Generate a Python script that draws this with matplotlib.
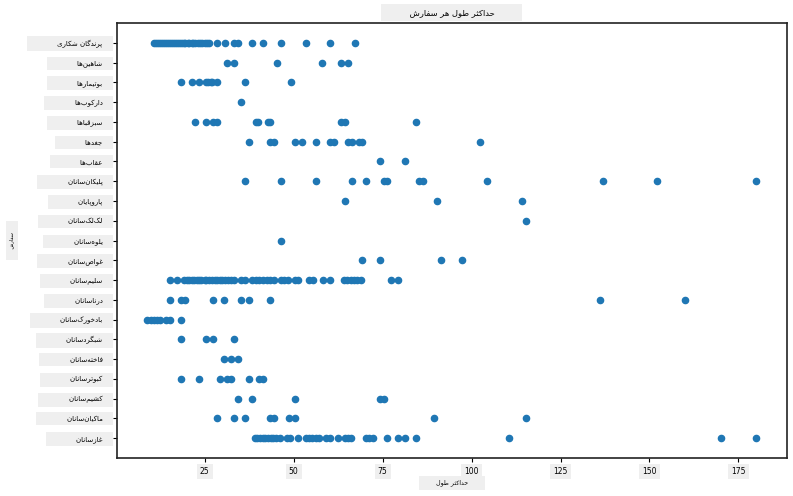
import matplotlib
matplotlib.use("Agg")
import matplotlib.pyplot as plt

# ---------------- data ----------------
# categories listed from bottom row to top row
categories = [
    "غازسانان", "ماکیان‌سانان", "کشیم‌سانان", "کبوترسانان", "فاخته‌سانان",
    "شبگردسانان", "بادخورک‌سانان", "درناسانان", "سلیم‌سانان", "غواص‌سانان",
    "یلوه‌سانان", "لک‌لک‌سانان", "پاروپایان", "پلیکان‌سانان", "عقاب‌ها",
    "جغدها", "سبزقباها", "دارکوب‌ها", "بوتیمارها", "شاهین‌ها", "پرندگان شکاری",
]

values = [
    # bottom row
    [39.0, 39.8, 40.5, 41.3, 42.0, 42.8, 43.5, 44.2, 45.1, 46.3, 48.2, 49.0,
     51.2, 53.4, 54.3, 55.2, 56.2, 57.1, 59.2, 60.2, 62.5, 64.3, 65.3, 66.2,
     70.2, 71.2, 72.3, 76.2, 79.3, 81.3, 84.4, 110.4, 170.2, 180.0],
    [28.5, 33.2, 36.3, 43.3, 44.5, 48.7, 50.4, 89.4, 115.2],
    [34.4, 38.3, 50.4, 74.2, 75.4],
    [18.3, 23.4, 29.3, 31.4, 32.4, 37.4, 40.3, 41.4],
    [30.4, 32.4, 34.4],
    [18.3, 25.4, 27.3, 33.2],
    [8.9, 9.8, 10.8, 11.7, 12.4, 14.2, 15.3, 18.3],
    [15.3, 18.3, 19.4, 27.3, 30.4, 35.2, 37.4, 43.3, 136.2, 160.1],
    [15.3, 17.2, 19.2, 20.0, 20.7, 21.5, 22.0, 22.8, 23.5, 24.0, 25.0, 25.5,
     26.3, 27.0, 28.0, 28.5, 29.3, 30.0, 30.8, 31.5, 32.3, 33.2, 35.2, 36.3,
     38.2, 39.3, 40.4, 41.4, 42.4, 43.3, 44.5, 46.4, 47.3, 48.4, 50.4, 51.2,
     54.3, 55.4, 58.2, 60.2, 64.1, 65.1, 66.0, 66.9, 67.9, 68.9, 77.3, 79.3],
    [69.1, 74.2, 91.4, 97.3],
    [46.4],
    [115.2],
    [64.4, 90.3, 114.3],
    [36.3, 46.4, 56.4, 66.4, 70.3, 75.4, 76.1, 85.2, 86.3, 104.3, 136.8,
     152.2, 180.0],
    [74.2, 81.3],
    [37.4, 43.3, 44.5, 50.4, 52.3, 56.4, 60.2, 61.3, 65.3, 66.4, 68.3, 69.2,
     102.3],
    [22.4, 25.4, 27.3, 28.5, 39.3, 40.0, 42.7, 43.3, 63.2, 64.5, 84.4],
    [35.2],
    [18.3, 21.3, 23.4, 25.4, 26.0, 26.7, 27.0, 28.5, 36.3, 49.3],
    [31.3, 33.2, 45.2, 58.1, 63.2, 65.3],
    # top row
    [10.8, 11.4, 11.9, 12.5, 13.0, 13.6, 14.1, 14.7, 15.2, 15.8, 16.3, 16.9,
     17.4, 18.0, 18.5, 19.1, 19.6, 20.2, 20.7, 21.3, 21.8, 22.4, 23.0, 23.6,
     24.3, 25.0, 25.6, 26.2, 28.4, 30.6, 33.2, 34.4, 38.4, 41.4, 46.4, 53.5,
     60.2, 67.2],
]

x_ticks = [25, 50, 75, 100, 125, 150, 175]
title_text = "حداکثر طول هر سفارش"
xlabel_text = "حداکثر طول"
ylabel_text = "سفارش"

# ---------------- minimal Arabic-script shaping ----------------
FORMS = {
    "ا": (0xFE8D, 0xFE8E), "آ": (0xFE81, 0xFE82),
    "ب": (0xFE8F, 0xFE90, 0xFE91, 0xFE92), "پ": (0xFB56, 0xFB57, 0xFB58, 0xFB59),
    "ت": (0xFE95, 0xFE96, 0xFE97, 0xFE98), "ث": (0xFE99, 0xFE9A, 0xFE9B, 0xFE9C),
    "ج": (0xFE9D, 0xFE9E, 0xFE9F, 0xFEA0), "چ": (0xFB7A, 0xFB7B, 0xFB7C, 0xFB7D),
    "ح": (0xFEA1, 0xFEA2, 0xFEA3, 0xFEA4), "خ": (0xFEA5, 0xFEA6, 0xFEA7, 0xFEA8),
    "د": (0xFEA9, 0xFEAA), "ذ": (0xFEAB, 0xFEAC), "ر": (0xFEAD, 0xFEAE),
    "ز": (0xFEAF, 0xFEB0), "ژ": (0xFB8A, 0xFB8B),
    "س": (0xFEB1, 0xFEB2, 0xFEB3, 0xFEB4), "ش": (0xFEB5, 0xFEB6, 0xFEB7, 0xFEB8),
    "ص": (0xFEB9, 0xFEBA, 0xFEBB, 0xFEBC), "ض": (0xFEBD, 0xFEBE, 0xFEBF, 0xFEC0),
    "ط": (0xFEC1, 0xFEC2, 0xFEC3, 0xFEC4), "ظ": (0xFEC5, 0xFEC6, 0xFEC7, 0xFEC8),
    "ع": (0xFEC9, 0xFECA, 0xFECB, 0xFECC), "غ": (0xFECD, 0xFECE, 0xFECF, 0xFED0),
    "ف": (0xFED1, 0xFED2, 0xFED3, 0xFED4), "ق": (0xFED5, 0xFED6, 0xFED7, 0xFED8),
    "ک": (0xFB8E, 0xFB8F, 0xFB90, 0xFB91), "گ": (0xFB92, 0xFB93, 0xFB94, 0xFB95),
    "ل": (0xFEDD, 0xFEDE, 0xFEDF, 0xFEE0), "م": (0xFEE1, 0xFEE2, 0xFEE3, 0xFEE4),
    "ن": (0xFEE5, 0xFEE6, 0xFEE7, 0xFEE8), "و": (0xFEED, 0xFEEE),
    "ه": (0xFEE9, 0xFEEA, 0xFEEB, 0xFEEC), "ی": (0xFBFC, 0xFBFD, 0xFBFE, 0xFBFF),
}


def shape(s):
    out = []
    for i, ch in enumerate(s):
        if ch == "\u200c":
            continue
        f = FORMS.get(ch)
        if f is None:
            out.append(ch)
            continue
        prev = s[i - 1] if i > 0 else ""
        nxt = s[i + 1] if i + 1 < len(s) else ""
        jp = prev in FORMS and len(FORMS[prev]) == 4
        jn = len(f) == 4 and nxt in FORMS
        if jp and jn:
            c = f[3]
        elif jp:
            c = f[1]
        elif jn:
            c = f[2]
        else:
            c = f[0]
        out.append(chr(c))
    return "".join(out[::-1])


def padded(s, left, right):
    return " " * left + s + " " * right


# ---------------- plot ----------------
plt.rcParams["font.family"] = ["DejaVu Sans"]
fig = plt.figure(figsize=(7.93, 4.96), dpi=100)
ax = fig.add_axes([0.1475, 0.0766, 0.8445, 0.877])
GRAY = "#efefef"

xs, ys = [], []
for cat, vals in zip(categories, values):
    for v in vals:
        xs.append(v)
        ys.append(padded(shape(cat), 12, 3))
ax.scatter(xs, ys, s=20, color="#1f77b4", zorder=3)

ax.set_xticks(x_ticks)
ax.set_xticklabels([str(t) for t in x_ticks], fontsize=5.5,
                   bbox=dict(boxstyle="square,pad=0.4", facecolor=GRAY, edgecolor="none"))
for lbl in ax.get_yticklabels():
    lbl.set_fontsize(5)
    lbl.set_bbox(dict(boxstyle="square,pad=0.5", facecolor=GRAY, edgecolor="none"))
ax.tick_params(axis="y", pad=2.5, length=3, width=0.8)
ax.tick_params(axis="x", pad=3.5, length=3, width=0.8)

ax.set_title(padded(shape(title_text), 9, 9), fontsize=6, y=1 + 10.5 / 435,
             va="center", pad=0,
             bbox=dict(boxstyle="square,pad=0.5", facecolor=GRAY, edgecolor="none"))
ax.set_xlabel(padded(shape(xlabel_text), 7, 7), fontsize=4.5,
              bbox=dict(boxstyle="square,pad=0.5", facecolor=GRAY, edgecolor="none"))
ax.xaxis.set_label_coords(0.5, -25 / 435)
ax.xaxis.label.set_va("center")
ax.set_ylabel(padded(shape(ylabel_text), 5, 5), fontsize=3.5,
              bbox=dict(boxstyle="square,pad=0.7", facecolor=GRAY, edgecolor="none"))
ax.yaxis.set_label_coords(-105 / 670, 0.5)
ax.yaxis.label.set_va("center")

for sp in ax.spines.values():
    sp.set_linewidth(1.2)
    sp.set_color("#222222")

fig.savefig("out.png", dpi=100)
